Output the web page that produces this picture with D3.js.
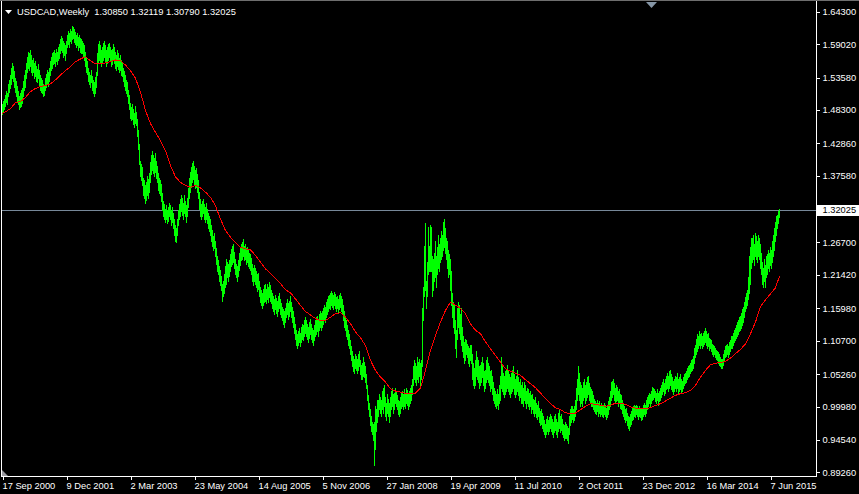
<!DOCTYPE html>
<html><head><meta charset="utf-8">
<script src="https://cdn.jsdelivr.net/npm/d3@7"></script>
<style>html,body{margin:0;padding:0;background:#000;overflow:hidden}</style>
</head><body>
<script>
// ---------------- data ----------------
const symbolTitle = "USDCAD,Weekly";
const lastQuote = ["1.30850", "1.32119", "1.30790", "1.32025"];
const firstWeek = "17 Sep 2000";
const bidPrice = 1.32025;
const priceTicks = [1.64300, 1.59020, 1.53580, 1.48300, 1.42860, 1.37580, 1.26700,
  1.21420, 1.15980, 1.10700, 1.05260, 0.99980, 0.94540, 0.89260];
const priceMin = 0.89260, priceMax = 1.64300;
const dateTickLabels = ["17 Sep 2000", "9 Dec 2001", "2 Mar 2003", "23 May 2004", "14 Aug 2005",
  "5 Nov 2006", "27 Jan 2008", "19 Apr 2009", "11 Jul 2010", "2 Oct 2011", "23 Dec 2012",
  "16 Mar 2014", "7 Jun 2015"];

// weekly lows (one per bar, from 17 Sep 2000)
const weekLow = [
1.477,1.480,1.485,1.490,1.496,1.492,1.505,1.512,1.518,1.525,
1.535,1.530,1.520,1.512,1.505,1.498,1.492,1.485,1.488,1.490,
1.495,1.505,1.515,1.520,1.535,1.545,1.552,1.548,1.555,1.545,
1.540,1.545,1.535,1.538,1.530,1.528,1.535,1.522,1.515,1.512,
1.510,1.506,1.508,1.515,1.520,1.525,1.522,1.530,1.540,1.548,
1.552,1.558,1.560,1.555,1.562,1.558,1.565,1.568,1.575,1.580,
1.578,1.570,1.572,1.565,1.575,1.585,1.590,1.585,1.595,1.592,
1.598,1.600,1.594,1.590,1.585,1.588,1.580,1.585,1.578,1.575,
1.575,1.570,1.565,1.555,1.545,1.542,1.530,1.525,1.520,1.528,
1.515,1.510,1.505,1.510,1.520,1.540,1.560,1.565,1.560,1.555,
1.560,1.565,1.570,1.562,1.555,1.560,1.565,1.570,1.562,1.555,
1.558,1.565,1.560,1.552,1.548,1.555,1.550,1.545,1.548,1.540,
1.538,1.530,1.522,1.515,1.510,1.505,1.495,1.485,1.470,1.466,
1.468,1.460,1.455,1.462,1.458,1.440,1.420,1.395,1.375,1.368,
1.360,1.345,1.340,1.332,1.336,1.345,1.340,1.350,1.365,1.378,
1.385,1.380,1.375,1.382,1.372,1.365,1.352,1.348,1.345,1.335,
1.320,1.310,1.305,1.300,1.305,1.298,1.302,1.310,1.305,1.295,
1.300,1.290,1.280,1.270,1.268,1.280,1.295,1.305,1.310,1.318,
1.312,1.305,1.315,1.310,1.300,1.310,1.325,1.340,1.350,1.358,
1.365,1.370,1.362,1.355,1.358,1.350,1.340,1.322,1.310,1.305,
1.310,1.315,1.305,1.300,1.305,1.298,1.290,1.285,1.280,1.270,
1.262,1.255,1.258,1.245,1.232,1.220,1.215,1.205,1.198,1.190,
1.172,1.180,1.185,1.195,1.200,1.210,1.205,1.212,1.220,1.228,
1.232,1.235,1.225,1.215,1.210,1.205,1.212,1.222,1.230,1.238,
1.240,1.245,1.238,1.240,1.232,1.235,1.228,1.225,1.222,1.215,
1.205,1.198,1.205,1.200,1.195,1.188,1.192,1.180,1.170,1.165,
1.160,1.165,1.170,1.172,1.168,1.175,1.170,1.178,1.172,1.168,
1.160,1.155,1.150,1.158,1.152,1.148,1.155,1.160,1.150,1.145,
1.140,1.135,1.130,1.138,1.145,1.150,1.142,1.148,1.155,1.145,
1.138,1.130,1.120,1.110,1.100,1.095,1.100,1.105,1.098,1.105,
1.110,1.108,1.115,1.120,1.115,1.110,1.105,1.112,1.118,1.110,
1.105,1.100,1.108,1.115,1.118,1.122,1.115,1.125,1.130,1.125,
1.130,1.135,1.140,1.138,1.145,1.150,1.155,1.160,1.158,1.165,
1.162,1.158,1.165,1.160,1.155,1.160,1.152,1.158,1.162,1.155,
1.150,1.140,1.130,1.125,1.115,1.110,1.100,1.095,1.085,1.075,
1.065,1.058,1.055,1.062,1.060,1.055,1.060,1.065,1.052,1.045,
1.045,1.050,1.048,1.040,1.030,1.010,0.995,0.985,0.970,0.960,
0.955,0.945,0.905,0.930,0.960,0.975,0.985,0.995,0.990,0.985,
0.995,0.990,1.000,0.985,0.978,0.990,0.985,0.975,0.985,0.995,
1.000,0.990,0.995,1.005,1.000,0.995,0.988,0.985,0.990,0.998,
1.000,0.995,1.000,0.998,1.005,1.002,0.995,1.000,1.005,1.010,
1.020,1.035,1.045,1.040,1.035,1.045,1.040,1.050,1.035,1.045,
1.065,1.140,1.180,1.190,1.160,1.180,1.215,1.220,1.220,1.220,
1.180,1.190,1.205,1.210,1.195,1.215,1.225,1.220,1.235,1.240,
1.245,1.255,1.260,1.250,1.240,1.225,1.210,1.215,1.190,1.165,
1.145,1.130,1.120,1.095,1.080,1.110,1.130,1.120,1.110,1.100,
1.090,1.080,1.070,1.075,1.085,1.080,1.070,1.065,1.075,1.070,
1.045,1.035,1.030,1.035,1.050,1.045,1.040,1.030,1.035,1.040,
1.048,1.035,1.025,1.030,1.040,1.045,1.040,1.035,1.025,1.030,
1.020,1.010,1.005,1.000,0.998,1.002,0.995,1.005,1.010,1.030,
1.025,1.020,1.015,1.020,1.025,1.030,1.025,1.020,1.015,1.022,
1.025,1.030,1.020,1.015,1.020,1.025,1.018,1.010,1.015,1.005,
1.005,1.000,1.010,1.005,0.998,1.005,1.000,0.995,1.000,0.990,
0.995,0.990,0.985,0.990,0.982,0.980,0.985,0.975,0.970,0.972,
0.965,0.960,0.955,0.950,0.955,0.960,0.955,0.960,0.965,0.960,
0.955,0.950,0.958,0.962,0.955,0.950,0.960,0.965,0.958,0.962,
0.955,0.950,0.945,0.948,0.948,0.945,0.940,0.955,0.970,0.975,
0.980,0.975,0.978,0.985,0.995,1.010,1.020,1.010,1.000,1.005,
1.000,1.010,1.015,1.005,1.010,1.015,1.020,1.010,1.005,1.000,
1.000,0.995,0.992,0.990,0.988,0.992,0.985,0.990,0.985,0.988,
0.985,0.982,0.988,0.985,0.980,0.982,0.988,0.995,1.000,1.010,
1.015,1.020,1.010,1.005,1.008,1.010,1.000,1.005,0.998,0.995,
0.990,0.985,0.980,0.975,0.978,0.970,0.965,0.962,0.968,0.972,
0.978,0.980,0.985,0.982,0.988,0.985,0.980,0.985,0.982,0.978,
0.980,0.985,0.988,0.985,0.990,0.995,1.000,1.005,1.000,1.005,
1.010,1.012,1.015,1.008,1.005,1.010,1.002,1.008,1.010,1.015,
1.020,1.025,1.018,1.022,1.028,1.030,1.025,1.030,1.035,1.028,
1.025,1.020,1.025,1.030,1.025,1.030,1.020,1.025,1.028,1.022,
1.025,1.030,1.035,1.038,1.040,1.045,1.048,1.050,1.055,1.058,
1.060,1.062,1.070,1.080,1.085,1.090,1.095,1.100,1.095,1.100,
1.095,1.098,1.102,1.105,1.100,1.095,1.098,1.092,1.095,1.090,
1.085,1.082,1.085,1.080,1.078,1.075,1.070,1.068,1.065,1.062,
1.063,1.068,1.075,1.080,1.082,1.085,1.080,1.085,1.090,1.095,
1.095,1.100,1.105,1.108,1.112,1.115,1.118,1.122,1.125,1.128,
1.132,1.138,1.145,1.155,1.160,1.165,1.175,1.185,1.200,1.225,
1.235,1.240,1.230,1.245,1.240,1.235,1.245,1.240,1.225,1.215,
1.200,1.195,1.205,1.195,1.210,1.215,1.225,1.220,1.230,1.225,
1.235,1.245,1.255,1.270,1.280,1.290,1.298,1.3079
];

// weekly highs (one per bar, from 17 Sep 2000)
const weekHigh = [
1.492,1.498,1.500,1.508,1.514,1.510,1.525,1.532,1.540,1.552,
1.560,1.555,1.547,1.535,1.530,1.522,1.514,1.505,1.510,1.515,
1.518,1.530,1.540,1.548,1.560,1.570,1.578,1.575,1.581,1.572,
1.565,1.567,1.560,1.562,1.555,1.550,1.558,1.548,1.540,1.535,
1.532,1.526,1.524,1.535,1.542,1.548,1.545,1.552,1.562,1.570,
1.575,1.578,1.580,1.575,1.582,1.578,1.585,1.590,1.598,1.604,
1.600,1.595,1.592,1.588,1.595,1.605,1.612,1.608,1.615,1.612,
1.619,1.618,1.615,1.610,1.605,1.608,1.602,1.605,1.600,1.598,
1.596,1.592,1.588,1.578,1.568,1.562,1.552,1.545,1.540,1.548,
1.538,1.532,1.528,1.536,1.545,1.575,1.590,1.596,1.588,1.580,
1.585,1.592,1.595,1.588,1.580,1.585,1.590,1.592,1.585,1.580,
1.582,1.590,1.585,1.578,1.572,1.580,1.575,1.568,1.572,1.565,
1.560,1.552,1.547,1.540,1.532,1.528,1.515,1.508,1.495,1.488,
1.492,1.485,1.478,1.490,1.480,1.468,1.450,1.428,1.400,1.395,
1.390,1.372,1.368,1.360,1.365,1.375,1.370,1.380,1.398,1.410,
1.416,1.410,1.405,1.412,1.400,1.392,1.380,1.372,1.368,1.362,
1.348,1.335,1.330,1.322,1.328,1.320,1.325,1.332,1.328,1.320,
1.325,1.315,1.305,1.295,1.290,1.305,1.320,1.330,1.338,1.345,
1.340,1.332,1.345,1.335,1.328,1.340,1.355,1.372,1.382,1.390,
1.396,1.400,1.392,1.385,1.388,1.378,1.368,1.350,1.338,1.330,
1.335,1.338,1.330,1.325,1.332,1.322,1.315,1.310,1.305,1.295,
1.288,1.278,1.282,1.270,1.258,1.245,1.238,1.228,1.222,1.212,
1.200,1.205,1.215,1.228,1.240,1.235,1.232,1.238,1.248,1.256,
1.262,1.265,1.252,1.240,1.232,1.228,1.238,1.250,1.258,1.265,
1.268,1.272,1.262,1.265,1.258,1.260,1.255,1.250,1.248,1.242,
1.232,1.225,1.230,1.225,1.220,1.215,1.218,1.205,1.195,1.190,
1.185,1.192,1.198,1.200,1.192,1.200,1.195,1.202,1.198,1.190,
1.185,1.180,1.175,1.182,1.176,1.172,1.180,1.185,1.175,1.168,
1.162,1.158,1.155,1.160,1.168,1.175,1.168,1.172,1.180,1.170,
1.162,1.155,1.145,1.135,1.125,1.118,1.122,1.128,1.120,1.130,
1.135,1.132,1.140,1.145,1.140,1.135,1.130,1.138,1.142,1.135,
1.128,1.125,1.132,1.140,1.145,1.148,1.142,1.150,1.155,1.152,
1.155,1.160,1.165,1.162,1.170,1.175,1.180,1.182,1.185,1.188,
1.185,1.182,1.186,1.183,1.178,1.180,1.175,1.182,1.185,1.180,
1.175,1.165,1.155,1.148,1.140,1.132,1.125,1.118,1.108,1.098,
1.090,1.082,1.078,1.085,1.082,1.078,1.085,1.090,1.075,1.068,
1.070,1.080,1.072,1.065,1.052,1.035,1.018,1.005,0.995,0.985,
0.975,0.972,0.975,1.000,0.995,1.010,1.010,1.020,1.015,1.010,
1.025,1.030,1.035,1.015,1.005,1.020,1.012,1.005,1.015,1.025,
1.030,1.020,1.022,1.030,1.025,1.018,1.010,1.008,1.015,1.022,
1.025,1.020,1.028,1.022,1.030,1.026,1.020,1.025,1.030,1.035,
1.045,1.065,1.075,1.070,1.065,1.080,1.072,1.078,1.070,1.075,
1.160,1.195,1.262,1.298,1.205,1.235,1.292,1.262,1.295,1.292,
1.245,1.240,1.250,1.270,1.245,1.260,1.280,1.265,1.275,1.285,
1.280,1.300,1.306,1.290,1.275,1.270,1.255,1.248,1.240,1.220,
1.185,1.170,1.165,1.140,1.125,1.160,1.170,1.165,1.150,1.160,
1.130,1.115,1.105,1.110,1.108,1.102,1.098,1.095,1.100,1.100,
1.085,1.070,1.062,1.075,1.090,1.080,1.075,1.065,1.068,1.072,
1.080,1.070,1.058,1.060,1.075,1.080,1.070,1.065,1.058,1.060,
1.050,1.040,1.030,1.025,1.020,1.028,1.020,1.035,1.050,1.080,
1.065,1.055,1.050,1.058,1.060,1.068,1.058,1.052,1.048,1.055,
1.060,1.065,1.052,1.045,1.050,1.060,1.048,1.040,1.045,1.035,
1.040,1.030,1.040,1.035,1.025,1.030,1.028,1.022,1.025,1.018,
1.020,1.012,1.010,1.015,1.005,1.002,1.008,0.998,0.992,0.995,
0.990,0.985,0.978,0.972,0.980,0.985,0.978,0.982,0.988,0.985,
0.980,0.975,0.985,0.988,0.980,0.975,0.990,0.995,0.985,0.988,
0.980,0.972,0.970,0.975,0.972,0.968,0.965,0.985,0.995,1.000,
1.000,0.995,1.000,1.010,1.030,1.045,1.065,1.055,1.040,1.035,
1.030,1.040,1.045,1.035,1.040,1.048,1.050,1.038,1.032,1.028,
1.025,1.018,1.012,1.008,1.005,1.010,1.005,1.008,1.002,1.005,
1.000,1.000,1.005,1.002,0.998,1.000,1.008,1.015,1.025,1.040,
1.042,1.045,1.038,1.030,1.035,1.032,1.025,1.028,1.020,1.018,
1.010,1.005,1.000,0.995,0.998,0.990,0.985,0.982,0.988,0.992,
0.998,1.000,1.002,1.000,1.002,1.000,0.998,1.000,0.998,0.995,
0.998,1.002,1.005,1.002,1.010,1.015,1.018,1.022,1.020,1.025,
1.032,1.030,1.028,1.025,1.022,1.028,1.022,1.025,1.030,1.035,
1.040,1.045,1.038,1.045,1.050,1.055,1.050,1.058,1.060,1.052,
1.048,1.042,1.045,1.050,1.048,1.055,1.045,1.048,1.052,1.045,
1.042,1.048,1.052,1.055,1.058,1.062,1.065,1.068,1.070,1.075,
1.078,1.082,1.095,1.100,1.110,1.118,1.115,1.122,1.118,1.120,
1.115,1.120,1.122,1.128,1.122,1.118,1.120,1.112,1.110,1.108,
1.102,1.100,1.098,1.095,1.092,1.090,1.088,1.085,1.080,1.078,
1.078,1.085,1.092,1.098,1.100,1.102,1.098,1.105,1.108,1.115,
1.115,1.120,1.125,1.128,1.132,1.138,1.140,1.145,1.148,1.152,
1.158,1.162,1.170,1.178,1.185,1.190,1.210,1.245,1.260,1.275,
1.275,1.280,1.265,1.282,1.278,1.270,1.280,1.275,1.265,1.250,
1.235,1.225,1.240,1.230,1.245,1.248,1.255,1.250,1.260,1.255,
1.270,1.280,1.290,1.300,1.310,1.312,1.318,1.32119
];

// red moving average, read every 5 bars (first sample two bars before the first bar)
const maFirstOffset = -2, maStep = 5;
const maValues = [
1.4753,1.480,1.485,1.495,1.4965,1.5035,1.5128,1.518,1.521,1.523,
1.5253,1.532,1.540,1.547,1.5535,1.5616,1.566,1.5697,1.563,1.5579,
1.558,1.5595,1.562,1.5643,1.563,1.556,1.547,1.5344,1.512,1.482,
1.4607,1.4465,1.433,1.4167,1.392,1.374,1.365,1.360,1.357,1.360,
1.356,1.349,1.3407,1.327,1.305,1.2865,1.2756,1.2674,1.2593,1.2567,
1.255,1.2458,1.235,1.224,1.217,1.208,1.200,1.190,1.185,1.175,
1.1644,1.1546,1.149,1.143,1.140,1.140,1.1454,1.151,1.1525,1.1454,
1.1346,1.121,1.112,1.099,1.075,1.0586,1.0477,1.0396,1.0288,1.025,
1.0233,1.021,1.0207,1.0217,1.0298,1.0586,1.0912,1.1156,1.1372,1.1563,
1.1698,1.165,1.160,1.151,1.1346,1.124,1.1183,1.105,1.094,1.083,
1.072,1.061,1.0575,1.054,1.0505,1.0434,1.037,1.0304,1.0217,1.0125,
1.0044,0.9979,0.9946,0.9897,0.9881,0.989,0.9946,1.000,1.0044,1.0033,
1.0016,1.000,1.0016,1.0054,1.0054,1.0033,0.999,0.9973,0.9963,0.9963,
0.998,1.0016,1.0044,1.0087,1.0135,1.018,1.0207,1.0223,1.026,1.0342,
1.0477,1.0586,1.0679,1.0705,1.071,1.0733,1.0786,1.0858,1.0928,1.102,
1.1183,1.1372,1.1628,1.1737,1.1835,1.1932
];
const maLast = 1.212;

// ---------------- drawing ----------------
const W = 859, H = 494;
const FONT = "'Liberation Sans', Arial, sans-serif";
const FS = "9.3px";
const svg = d3.select("body").append("svg")
  .attr("width", W).attr("height", H)
  .style("display", "block").style("background", "#000");

const n = weekLow.length;
const x = d3.scaleLinear().domain([0, n - 1]).range([2.5, 2.5 + (n - 1)]);
const y = d3.scaleLinear().domain([priceMin, priceMax]).range([472.3, 11.7]);

const plotRight = 816.5, plotBottom = 476.5;

svg.append("clipPath").attr("id", "plot")
  .append("rect").attr("x", 2).attr("y", 2).attr("width", 814).attr("height", 474);

const g = svg.append("g").attr("clip-path", "url(#plot)");

// bid line
g.append("line")
  .attr("x1", 2).attr("x2", plotRight)
  .attr("y1", Math.round(y(bidPrice)) + 0.5).attr("y2", Math.round(y(bidPrice)) + 0.5)
  .attr("stroke", "#778899").attr("stroke-width", 1).attr("shape-rendering", "crispEdges");

// bars
g.append("g").selectAll("line").data(weekLow).join("line")
  .attr("x1", (d, i) => x(i)).attr("x2", (d, i) => x(i))
  .attr("y1", (d, i) => y(weekHigh[i]))
  .attr("y2", d => y(d) + 1)
  .attr("stroke", "#00ff00").attr("stroke-width", 1)
  .attr("shape-rendering", "crispEdges");

// moving average
const maPts = maValues.map((v, k) => [maFirstOffset + k * maStep, v]);
maPts.push([n - 1, maLast]);
g.append("path").datum(maPts)
  .attr("d", d3.line().x(d => x(d[0])).y(d => y(d[1])))
  .attr("fill", "none").attr("stroke", "#ff0000").attr("stroke-width", 1)
  .attr("shape-rendering", "crispEdges");

// frame
const frame = svg.append("g").attr("stroke", "#ffffff").attr("stroke-width", 1)
  .attr("shape-rendering", "crispEdges");
frame.append("line").attr("x1", 1.5).attr("x2", 1.5).attr("y1", 1).attr("y2", plotBottom);
frame.append("line").attr("x1", plotRight).attr("x2", plotRight).attr("y1", 0).attr("y2", plotBottom);
frame.append("line").attr("x1", 1).attr("x2", plotRight).attr("y1", plotBottom).attr("y2", plotBottom);
svg.append("line").attr("x1", 0).attr("x2", W).attr("y1", 0.5).attr("y2", 0.5)
  .attr("stroke", "#6e6e6e").attr("shape-rendering", "crispEdges");

// right price axis
const yAxis = d3.axisRight(y).tickValues(priceTicks)
  .tickFormat(d3.format(".5f")).tickSize(3).tickPadding(3);
const ya = svg.append("g").attr("transform", `translate(${plotRight},0)`).call(yAxis);
ya.select(".domain").remove();
ya.selectAll("line").attr("stroke", "#fff").attr("shape-rendering", "crispEdges");
ya.selectAll("text").attr("fill", "#fff").style("font-family", FONT).style("font-size", FS);

// bid label
const by = y(bidPrice);
svg.append("rect").attr("x", 817).attr("y", Math.round(by) - 5).attr("width", 42).attr("height", 11)
  .attr("fill", "#ffffff");
svg.append("text").attr("x", 822.5).attr("y", by).attr("dy", "0.32em")
  .attr("fill", "#000").style("font-family", FONT).style("font-size", FS)
  .text(d3.format(".5f")(bidPrice));

// bottom date axis
const parseDate = d3.utcParse("%d %b %Y");
const start = parseDate(firstWeek);
const tickIdx = dateTickLabels.map(s => d3.utcSunday.count(start, parseDate(s)));
const xAxis = d3.axisBottom(x).tickValues(tickIdx)
  .tickFormat((d, k) => dateTickLabels[k]).tickSize(3);
const xa = svg.append("g").attr("transform", `translate(0,${plotBottom})`).call(xAxis);
xa.select(".domain").remove();
xa.selectAll("line").attr("stroke", "#fff").attr("shape-rendering", "crispEdges");
xa.selectAll("text").attr("fill", "#fff").attr("text-anchor", "start")
  .attr("x", -0.5).attr("y", 12).attr("dy", 0)
  .style("font-family", FONT).style("font-size", FS);

// header
svg.append("path").attr("d", "M5,10 L12,10 L8.5,14 Z").attr("fill", "#fff");
svg.append("text").attr("x", 17).attr("y", 15).attr("fill", "#fff")
  .style("font-family", FONT).style("font-size", FS).attr("xml:space", "preserve")
  .text(symbolTitle + "  " + lastQuote.join(" "));

// chart-shift marker (top) and scroll marker (bottom-left)
svg.append("path").attr("d", "M646,2 L657,2 L651.5,8 Z").attr("fill", "#8696a6");
svg.append("path").attr("d", "M2,470 L2,476 L8,476 Z").attr("fill", "#9a9aa0");
</script>
</body></html>
